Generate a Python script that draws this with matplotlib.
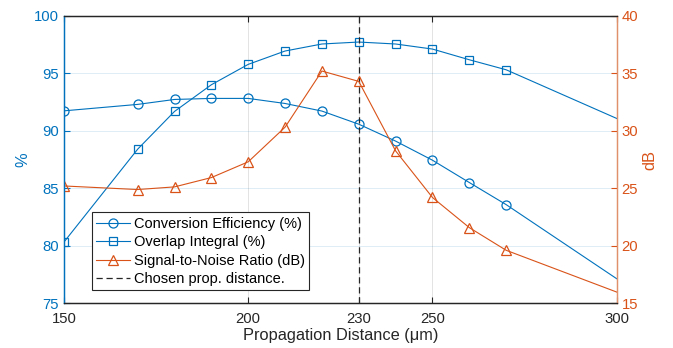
import matplotlib.pyplot as plt
import numpy as np

plt.rcParams['font.family'] = ['Liberation Sans', 'DejaVu Sans']
plt.rcParams['font.size'] = 10.7

# data
distance = [150, 170, 180, 190, 200, 210, 220, 230, 240, 250, 260, 270, 300]
conv_eff = [91.73, 92.29, 92.72, 92.81, 92.81, 92.37, 91.71, 90.57, 89.1, 87.44, 85.5, 83.58, 77.14]
overlap = [80.33, 88.4, 91.68, 94.0, 95.77, 96.93, 97.54, 97.71, 97.54, 97.1, 96.17, 95.3, 91.07]
snr = [25.2, 24.89, 25.12, 25.93, 27.3, 30.31, 35.19, 34.29, 28.25, 24.2, 21.58, 19.61, 15.98]
chosen = 230
xticks = [150, 200, 230, 250, 300]

blue = '#0072BD'
orange = '#D95319'
dark = '#262626'

fig = plt.figure(figsize=(6.73, 3.48), dpi=100)
ax = fig.add_axes([0.0951, 0.1284, 0.8212, 0.8265])
ax2 = ax.twinx()

marks = list(range(len(distance) - 1))  # last point sits past the marker range
l1, = ax.plot(distance, conv_eff, color=blue, lw=0.8, marker='o', ms=6.5,
              mfc='none', mew=0.9, markevery=marks,
              label='Conversion Efficiency (%)')
l2, = ax.plot(distance, overlap, color=blue, lw=0.8, marker='s', ms=5.2,
              mfc='none', mew=0.9, markevery=marks,
              label='Overlap Integral (%)')
l4 = ax.axvline(chosen, color=dark, ls=(0, (5, 3)), lw=0.9,
                label='Chosen prop. distance.')
l3, = ax2.plot(distance, snr, color=orange, lw=0.8, marker='^', ms=7.5,
               mfc='none', mew=0.9, markevery=marks,
               label='Signal-to-Noise Ratio (dB)')

ax.set_xlim(150, 300)
ax.set_ylim(75, 100)
ax2.set_ylim(15, 40)
ax.set_xticks(xticks)
ax.set_yticks([75, 80, 85, 90, 95, 100])
ax2.set_yticks([15, 20, 25, 30, 35, 40])

ax.grid(True, axis='x', color=dark, alpha=0.13, lw=0.7)
ax.grid(True, axis='y', color=blue, alpha=0.13, lw=0.7)
ax.set_axisbelow(True)

ax.tick_params(axis='x', direction='in', colors=dark, top=True, length=4, pad=6)
ax.tick_params(axis='y', direction='in', colors=blue, length=4)
ax2.tick_params(axis='y', direction='in', colors=orange, length=4)

for a in (ax, ax2):
    a.spines['top'].set_color(dark)
    a.spines['bottom'].set_color(dark)
    a.spines['left'].set_color(blue)
    a.spines['right'].set_color('#E0906B')
    for s in a.spines.values():
        s.set_linewidth(0.9)

ax.set_xlabel('Propagation Distance (μm)', color=dark, fontsize=11.8, labelpad=2)
ax.set_ylabel('%', color=blue, fontsize=11.8, labelpad=3)
ax2.set_ylabel('dB', color=orange, fontsize=11.8, labelpad=3)

leg = ax2.legend(handles=[l1, l2, l3, l4], loc='lower left',
                 bbox_to_anchor=(0.05, 0.045), fancybox=False, framealpha=1,
                 edgecolor=dark, handlelength=2.3, borderpad=0.3,
                 labelspacing=0.3, handletextpad=0.3, borderaxespad=0,
                 fontsize=10.5)
leg.get_frame().set_linewidth(0.8)

fig.savefig('out.png', dpi=100)
